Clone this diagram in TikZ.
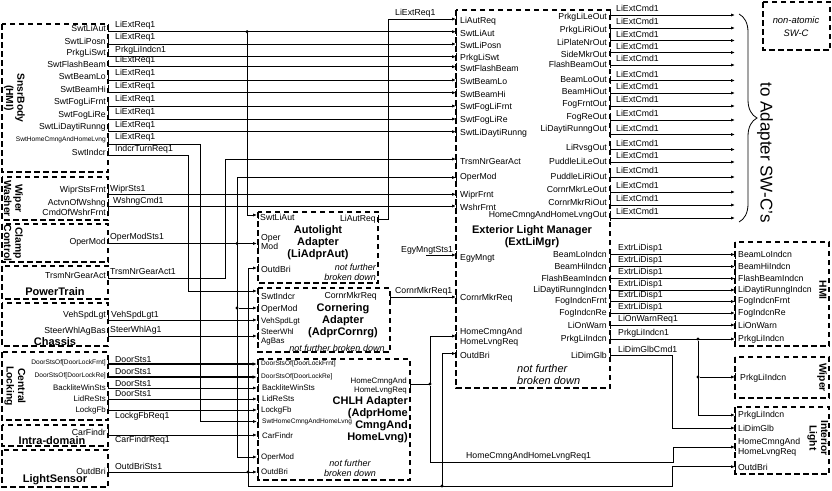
\documentclass[tikz,border=0pt]{standalone}
\usepackage{fontspec}
\setmainfont{Liberation Sans}
\usetikzlibrary{arrows.meta,decorations.pathreplacing}
\newcommand\txA{\fontsize{8.7}{9.6}\selectfont}
\newcommand\txS{\fontsize{6.6}{7.4}\selectfont}
\newcommand\txM{\fontsize{7.9}{9}\selectfont}
\newcommand\txB{\fontsize{11}{12}\selectfont\bfseries}
\newcommand\txR{\fontsize{10.3}{11.3}\selectfont\bfseries}
\newcommand\txI{\fontsize{9}{10.2}\selectfont\itshape}
\newcommand\txJ{\fontsize{11}{12}\selectfont\itshape}
\tikzset{
  grp/.style={draw, line width=1.1pt, dash pattern=on 5.5pt off 3.5pt},
  sig/.style={line width=0.8pt, line cap=rect},
  arr/.style={line width=0.8pt, line cap=rect, -{Latex[length=4pt,width=3.2pt]}},
  bus/.style={line width=1.7pt, -{Latex[length=4.5pt,width=3.6pt]}},
  tick/.style={line width=0.8pt},
  jn/.style={circle, fill, inner sep=0pt, minimum size=3.4pt},
  pl/.style={font=\txA, inner sep=0pt, anchor=east},
  pr/.style={font=\txA, inner sep=0pt, anchor=west},
  ttl/.style={font=\txB, inner sep=0pt, align=center},
  rttl/.style={font=\txR, inner sep=0pt, align=center, rotate=-90},
}
\begin{document}
\begin{tikzpicture}[x=1pt,y=-1pt]
\path[use as bounding box] (0,0) rectangle (832,490);
% ---------------- dashed boxes
\draw[grp] (2,24) rectangle (108,172);
\draw[grp] (2,177) rectangle (108,220);
\draw[grp] (2,224) rectangle (108,262);
\draw[grp] (2,266) rectangle (108,299);
\draw[grp] (2,303) rectangle (108,346);
\draw[grp] (2,352) rectangle (108,420);
\draw[grp] (2,425) rectangle (108,446);
\draw[grp] (2,450) rectangle (108,487);
\draw[grp] (258,212) rectangle (378,283);
\draw[grp] (258,288) rectangle (390,352);
\draw[grp] (258,359) rectangle (410,480);
\draw[grp] (456,10) rectangle (610,388);
\draw[grp] (735,242) rectangle (829,346);
\draw[grp] (735,357) rectangle (829,398);
\draw[grp] (735,407) rectangle (829,474);
\draw[grp] (763,2) rectangle (830,50);
% ---------------- titles
\node[rttl] (tSB) at (14.5,98) {SnsrBody\\(HMI)};
\node[rttl] (tWW) at (13.5,198.5) {Wiper\\Washer};
\node[rttl] (tCC) at (13.5,243) {Clamp\\Control};
\node[ttl] (tPT) at (55,292) {PowerTrain};
\node[ttl] (tCH) at (55,341.5) {Chassis};
\node[rttl] (tCL) at (15,386) {Central\\Locking};
\node[ttl] (tID) at (52,440.5) {Intra-domain};
\node[ttl] (tLS) at (55,480) {LightSensor};
\node[ttl] (tEM) at (532,237) {Exterior Light Manager\\(ExtLiMgr)};
\node[ttl] (tAL) at (318,242.5) {Autolight\\Adapter\\(LiAdprAut)};
\node[ttl] (tCO) at (343,320.5) {Cornering\\Adapter\\(AdprCornrg)};
\node[ttl,align=right,anchor=east] (tCHLH) at (408,420) {CHLH Adapter\\(AdprHome\\CmngAnd\\HomeLvng)};
\node[rttl] (tHMI) at (823,290) {HMI};
\node[rttl] (tWP) at (822,377.5) {Wiper};
\node[rttl] (tIL) at (818,438) {Interior\\Light};
\node[font=\txI,align=right,anchor=east,inner sep=0pt] (nAL) at (376,272.5) {not further\\broken down};
\node[font=\txI,inner sep=0pt] (nCO) at (337,348) {not further broken down};
\node[font=\txI,align=center,inner sep=0pt] (nCH) at (350,468) {not further\\broken down};
\node[font=\txJ,align=left,anchor=west,inner sep=0pt] (nEM) at (517,375) {not further\\broken down};
\node[font=\fontsize{9.4}{13}\selectfont\itshape,align=center,inner sep=0pt] (nNA) at (796,26.5) {non-atomic\\SW-C};
% ---------------- SnsrBody -> ExtLiMgr straight rows
\foreach \pa/\la/\sa/\sg [count=\i] in {SwtLiAut/28/31.7/LiExtReq1, SwtLiPosn/41/44/LiExtReq1, PrkgLiSwt/53/56.7/PrkgLiIndcn1, SwtFlashBeam/64/66.7/LiExtReq1, SwtBeamLo/77/80/LiExtReq1, SwtBeamHi/89/92.7/LiExtReq1, SwtFogLiFrnt/102/106/LiExtReq1, SwtFogLiRe/115/119/LiExtReq1, SwtLiDaytiRunng/127/131.7/LiExtReq1}{
  \node[pl] (sbp\i) at (106,\la) {\pa};
  \draw[tick] (108,\la-4) -- (108,\sa+0.5);
  \node[pr] (sbs\i) at (115,\sa-6.5) {\sg};
  \coordinate (sba\i) at (108,\sa);
  \coordinate (emi\i) at (456,\sa);
  \draw[arr] (sba\i) -- (emi\i);
  \node[pr] (emp\i) at (460,\sa+1.5) {\pa};
  \draw[tick] (456,\sa-4) -- (456,\sa+4);
}
% ---------------- ExtLiMgr outputs to adapters
\foreach \pa/\la/\sa [count=\i] in {PrkgLiLeOut/17/15, PrkgLiRiOut/30/28, LiPlateNrOut/42/40.5, SideMkrOut/54/52.5, FlashBeamOut/64.5/65, BeamLoOut/80/80.5, BeamHiOut/91/93, FogFrntOut/104/106, FogReOut/117/120, LiDaytiRunngOut/129.5/134.5, LiRvsgOut/148/149.5, PuddleLiLeOut/161/162, PuddleLiRiOut/176/177, CornrMkrLeOut/189/192, CornrMkrRiOut/202/205, HomeCmngAndHomeLvngOut/215/218}{
  \node[pl] (eo\i) at (607,\la) {\pa};
  \draw[tick] (610,{min(\la,\sa)-4}) -- (610,{max(\la,\sa)+3});
  \node[pr] (eos\i) at (616,\sa-6.5) {LiExtCmd1};
  \coordinate (eoa\i) at (610,\sa);
  \coordinate (eob\i) at (735,\sa);
  \draw[arr] (eoa\i) -- (eob\i);
}
\draw[line width=0.8pt,decorate,decoration={brace,amplitude=18pt}] (739,14) -- (739,222);
\node[font=\fontsize{17}{18}\selectfont,rotate=-90,inner sep=0pt] (tAd) at (765,152.5) {to Adapter SW-C's};
% ---------------- ExtLiMgr indicator outputs to HMI
\foreach \pa/\sa/\sg [count=\i] in {BeamLoIndcn/254.5/ExtrLiDisp1, BeamHiIndcn/266.5/ExtrLiDisp1, FlashBeamIndcn/278.5/ExtrLiDisp1, LiDaytiRunngIndcn/290/ExtrLiDisp1, FogIndcnFrnt/301.5/ExtrLiDisp1, FogIndcnRe/313/ExtrLiDisp1, LiOnWarn/325/LiOnWarnReq1, PrkgLiIndcn/339/PrkgLiIndcn1}{
  \node[pl] (ei\i) at (607,\sa) {\pa};
  \draw[tick] (610,\sa-4) -- (610,\sa+4);
  \node[pr] (eis\i) at (618,\sa-6) {\sg};
  \coordinate (eia\i) at (610,\sa);
  \coordinate (eib\i) at (735,\sa);
  \draw[arr] (eia\i) -- (eib\i);
  \node[pr] (hm\i) at (738,\sa) {\pa};
  \draw[tick] (735,\sa-4) -- (735,\sa+4);
}
\node[pl] (eDG) at (607,355) {LiDimGlb};
\draw[tick] (610,351) -- (610,359);
\node[pr] (eDGs) at (618,349) {LiDimGlbCmd1};
\coordinate (emDG) at (610,355);
\coordinate (ilDG) at (735,428);
\draw[arr] (emDG) -- (672,355) -- (672,428) -- (ilDG);
\node[jn] (j7) at (698,339) {};
\node[jn] (j8) at (698,377) {};
\coordinate (ilP) at (735,415);
\coordinate (wpP) at (735,377);
\draw[arr] (j7) |- (ilP);
\draw[arr] (j8) -- (wpP);
% right boxes labels
\node[pr] (wpL) at (740,378) {PrkgLiIndcn};
\node[pr] (ilL1) at (738,415) {PrkgLiIndcn};
\node[pr] (ilL2) at (738,428) {LiDimGlb};
\node[pr,align=left] (ilL3) at (738,447) {HomeCmngAnd\\HomeLvngReq};
\node[pr] (ilL4) at (738,467) {OutdBri};
\foreach \yy in {377,415,428,447,466.7}{\draw[tick] (735,\yy-4) -- (735,\yy+4);}
% ---------------- remaining SnsrBody rows
\node[pl,font=\txS] (sbH) at (106,139.5) {SwtHomeCmngAndHomeLvng};
\draw[tick] (108,136) -- (108,144.5);
\node[pr] (sbHs) at (115,137.5) {LiExtReq1};
\coordinate (sbHa) at (108,144);
\coordinate (chSH) at (257,421.5);
\draw[arr] (sbHa) -- (200,144) -- (200,421.5) -- (chSH);
\node[pl] (sbI) at (106,152) {SwtIndcr};
\draw[tick] (108,148) -- (108,155.5);
\node[pr] (sbIs) at (115,149.5) {IndcrTurnReq1};
\coordinate (sbIa) at (108,155);
\coordinate (coSI) at (257,291);
\draw[arr] (sbIa) -- (188,155) -- (188,291) -- (coSI);
% SwtLiAut branch to Autolight
\node[jn] (j1) at (247,31.7) {};
\coordinate (alSw) at (257,215);
\draw[arr] (j1) |- (alSw);
% LiAutReq back to ExtLiMgr
\coordinate (alOut) at (378,219);
\coordinate (emLA) at (456,19);
\draw[arr] (alOut) -- (388,219) -- (388,19) -- (emLA);
\draw[tick] (378,215) -- (378,223);
\node[pr] (sLA) at (395,13) {LiExtReq1};
\node[pr] (emLAp) at (460,21.5) {LiAutReq};
\draw[tick] (456,15) -- (456,23);
% ---------------- Wiper Washer
\node[pl] (wwP1) at (106,190) {WiprStsFrnt};
\draw[tick] (108,186) -- (108,194.8);
\node[pr] (wwS1) at (110,189) {WiprSts1};
\coordinate (wwA1) at (108,194.3);
\coordinate (emW1) at (456,194.3);
\draw[arr] (wwA1) -- (emW1);
\node[pl,align=right] (wwP2) at (106,207.5) {ActvnOfWshng\\CmdOfWshrFrnt};
\draw[tick] (108,199) -- (108,215);
\node[pr] (wwS2) at (113,201.5) {WshngCmd1};
\coordinate (wwA2) at (108,206);
\coordinate (emW2) at (456,206);
\draw[arr] (wwA2) -- (emW2);
\node[pr] (emWp1) at (460,195.5) {WiprFrnt};
\node[pr] (emWp2) at (460,207.5) {WshrFrnt};
\draw[tick] (456,190) -- (456,198);
\draw[tick] (456,202) -- (456,210);
% ---------------- Clamp control: OperMod bus
\node[pl] (ccP) at (106,242) {OperMod};
\draw[tick] (108,238) -- (108,244);
\node[pr] (ccS) at (110,237) {OperModSts1};
\coordinate (ccA) at (108,243.5);
\coordinate (alO) at (257,243.5);
\draw[arr] (ccA) -- (alO);
\node[jn] (j2) at (237,243.5) {};
\coordinate (omTop) at (237,177.5);
\coordinate (omBot) at (237,457);
\coordinate (emO) at (456,177.5);
\coordinate (chO) at (257,457);
\draw[arr] (omBot) -- (omTop) -- (emO);
\draw[arr] (omBot) -- (chO);
\node[jn] (j3) at (237,308) {};
\coordinate (coO) at (257,308);
\draw[arr] (j3) -- (coO);
\node[pr] (emOp) at (460,177.5) {OperMod};
\draw[tick] (456,173.5) -- (456,181.5);
% ---------------- PowerTrain
\node[pl] (ptP) at (106,275) {TrsmNrGearAct};
\draw[tick] (108,271) -- (108,278.5);
\node[pr] (ptS) at (110,271.5) {TrsmNrGearAct1};
\coordinate (ptA) at (108,278);
\coordinate (emT) at (456,159);
\draw[arr] (ptA) -- (225,278) -- (225,159) -- (emT);
\node[pr] (emTp) at (460,161.5) {TrsmNrGearAct};
\draw[tick] (456,155) -- (456,163);
% ---------------- Chassis
\node[pl] (chP1) at (106,315) {VehSpdLgt};
\draw[tick] (108,311) -- (108,320.5);
\node[pr] (chS1) at (111,315.5) {VehSpdLgt1};
\coordinate (chA1) at (108,320);
\coordinate (coV) at (257,320);
\draw[arr] (chA1) -- (coV);
\node[pl] (chP2) at (106,331) {SteerWhlAgBas};
\draw[tick] (108,327) -- (108,336.5);
\node[pr] (chS2) at (110,330.5) {SteerWhlAg1};
\coordinate (chA2) at (108,336);
\coordinate (coS) at (257,336);
\draw[arr] (chA2) -- (coS);
% ---------------- Cornering adapter ports
\node[pr] (coL1) at (261,296) {SwtIndcr};
\node[pr] (coL2) at (261,309) {OperMod};
\node[pr,font=\txM] (coL3) at (261,321) {VehSpdLgt};
\node[pr,font=\txM,align=left] (coL4) at (261,337) {SteerWhl\\AgBas};
\foreach \yy in {291,308,320,336}{\draw[tick] (258,\yy-4) -- (258,\yy+4);}
\node[pl] (coOutL) at (377,296) {CornrMkrReq};
\draw[tick] (390,292) -- (390,301);
\coordinate (coOut) at (390,297);
\coordinate (emC) at (456,297);
\draw[arr] (coOut) -- (emC);
\node[pr] (sC) at (395,291.5) {CornrMkrReq1};
\node[pr] (emCp) at (460,298.5) {CornrMkrReq};
\draw[tick] (456,293) -- (456,301);
% ---------------- EgyMngt
\coordinate (egy) at (426,255);
\coordinate (emE) at (456,255);
\draw[arr] (egy) -- (emE);
\node[pr] (sE) at (401,250.5) {EgyMngtSts1};
\node[pr] (emEp) at (460,258) {EgyMngt};
\draw[tick] (456,251) -- (456,259);
% ---------------- Autolight ports
\node[pr] (alL1) at (260,217.5) {SwtLiAut};
\node[pr,align=left] (alL2) at (261,242) {Oper\\Mod};
\node[pr] (alL3) at (261,269) {OutdBri};
\node[pl] (alL4) at (376,219.5) {LiAutReq};
\foreach \yy in {215,243.5,268}{\draw[tick] (258,\yy-4) -- (258,\yy+4);}
% ---------------- Central locking
\node[pl,font=\txS] (clP1) at (106,363) {DoorStsOf[DoorLockFrnt]};
\node[pl,font=\txS] (clP2) at (106,376) {DoorStsOf[DoorLockRe]};
\node[pl,font=\txM] (clP3) at (106,388) {BackliteWinSts};
\node[pl,font=\txM] (clP4) at (106,399) {LidReSts};
\node[pl,font=\txM] (clP5) at (106,410) {LockgFb};
\foreach \yy in {364,377,388,399,410}{\draw[tick] (108,\yy-5) -- (108,\yy+1);}
\node[pr] (clS1) at (115,359) {DoorSts1};
\node[pr] (clS2) at (115,371.5) {DoorSts1};
\node[pr] (clS3) at (115,383) {DoorSts1};
\node[pr] (clS4) at (115,393.5) {DoorSts1};
\node[pr] (clS5) at (115,416) {LockgFbReq1};
\coordinate (clA1) at (108,364); \coordinate (chI1) at (257,364);
\coordinate (clA2) at (108,377); \coordinate (chI2) at (257,377);
\coordinate (clA3) at (108,388); \coordinate (chI3) at (257,388);
\coordinate (clA4) at (108,399); \coordinate (chI4) at (257,399);
\coordinate (clA5) at (108,410); \coordinate (chI5) at (257,410);
\draw[bus] (clA1) -- (chI1);
\draw[bus] (clA2) -- (chI2);
\draw[arr] (clA3) -- (chI3);
\draw[arr] (clA4) -- (chI4);
\draw[arr] (clA5) -- (chI5);
% ---------------- Intra-domain
\node[pl] (idP) at (106,432.5) {CarFindr};
\draw[tick] (108,429) -- (108,435.5);
\node[pr] (idS) at (115,440.5) {CarFindrReq1};
\coordinate (idA) at (108,435);
\coordinate (chCF) at (257,435);
\draw[arr] (idA) -- (chCF);
% ---------------- LightSensor & OutdBri bus
\node[pl] (lsP) at (106,471.5) {OutdBri};
\draw[tick] (108,467.5) -- (108,472.5);
\node[pr] (lsS) at (115,466.5) {OutdBriSts1};
\coordinate (lsA) at (108,472);
\coordinate (chOB) at (257,472);
\draw[arr] (lsA) -- (chOB);
\node[jn] (j4) at (248,472) {};
\coordinate (alOB) at (257,268);
\coordinate (obBot) at (248,486);
\coordinate (ilOB) at (735,466.7);
\draw[arr] (obBot) -- (248,268) -- (alOB);
\draw[arr] (obBot) -- (672,486) -- (672,466.7) -- (ilOB);
\node[jn] (j5) at (442,486) {};
\coordinate (emOB) at (456,353.5);
\draw[arr] (j5) |- (emOB);
\node[pr] (emOBp) at (460,355) {OutdBri};
\draw[tick] (456,349.5) -- (456,357.5);
% ---------------- CHLH adapter ports
\node[pr,font=\txS] (chL1) at (261,363.5) {DoorStsOf[DoorLockFrnt]};
\node[pr,font=\txS] (chL2) at (261,376.5) {DoorStsOf[DoorLockRe]};
\node[pr,font=\txM] (chL3) at (262,388) {BackliteWinSts};
\node[pr,font=\txM] (chL4) at (262,399) {LidReSts};
\node[pr,font=\txM] (chL5) at (261,410) {LockgFb};
\node[pr,font=\txS] (chL6) at (262,422) {SwtHomeCmngAndHomeLvng};
\node[pr,font=\txM] (chL7) at (262,436) {CarFindr};
\node[pr,font=\txM] (chL8) at (261,457) {OperMod};
\node[pr,font=\txM] (chL9) at (261,472) {OutdBri};
\foreach \yy in {364,377,388,399,410,421.5,435,457,472}{\draw[tick] (258,\yy-4) -- (258,\yy+4);}
\node[pl,font=\txM,align=right] (chOL) at (407,386) {HomeCmngAnd\\HomeLvngReq};
\draw[tick] (410,379) -- (410,392);
\coordinate (chOut) at (410,384);
\node[jn] (j6) at (430,384) {};
\draw[sig] (chOut) -- (j6);
\coordinate (emH) at (456,336);
\coordinate (ilH) at (735,447);
\draw[arr] (j6) |- (emH);
\draw[arr] (j6) |- (673,462) -- (673,447) -- (ilH);
\node[pr] (sH) at (466,456) {HomeCmngAndHomeLvngReq1};
\node[pr,align=left] (emHp) at (460,337) {HomeCmngAnd\\HomeLvngReq};
\draw[tick] (456,332) -- (456,340);
\end{tikzpicture}
\end{document}
